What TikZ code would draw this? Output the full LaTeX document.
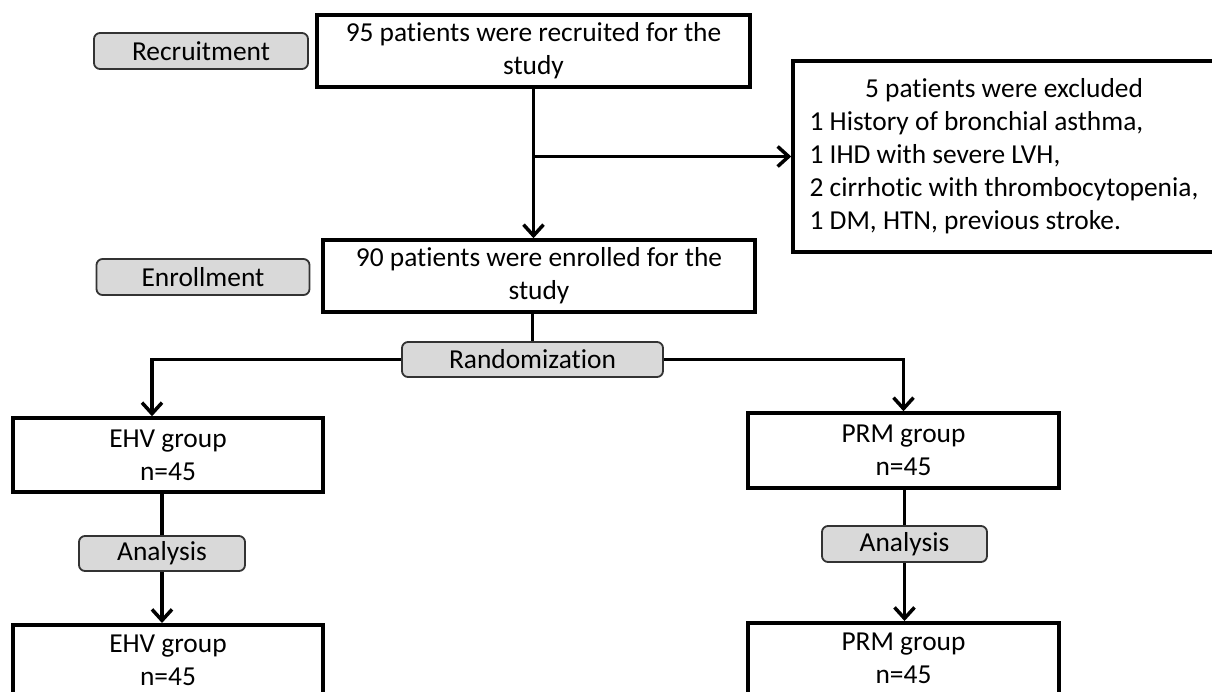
\documentclass[tikz,border=0pt]{standalone}
\usepackage{fontspec}
\setmainfont{Carlito}[Ligatures={NoCommon}]
\usetikzlibrary{positioning,arrows.meta}

\begin{document}
\begin{tikzpicture}[x=1pt,y=-1pt,
  font=\fontsize{27.4}{33}\selectfont,
  mainbox/.style={draw, line width=3.5, align=center, inner sep=0pt},
  stagebox/.style={draw=black!80, fill=black!15, line width=1.8, rounded corners=6, inner sep=0pt},
  link/.style={line width=3.5},
  arr/.style={line width=3.5, -{Straight Barb[length=11pt,width=20pt]}}]
\useasboundingbox (0,0) rectangle (1212,691);

\node[mainbox, minimum width=433, minimum height=72] (recruited) at (533.5,51) {95 patients were recruited for the\\study};
\node[stagebox, minimum width=214, minimum height=36] (recruit) at (201,51) {Recruitment};
\node[mainbox, minimum width=422, minimum height=191] (excluded) at (1004,156.5)
  {\begin{tabular}{@{}l@{}}
   \multicolumn{1}{@{}c@{}}{5 patients were excluded}\\
   1 History of bronchial asthma,\\
   1 IHD with severe LVH,\\
   2 cirrhotic with thrombocytopenia,\\
   1 DM, HTN, previous stroke.
   \end{tabular}};
\node[mainbox, minimum width=432, minimum height=72] (enrolled) at (539,276) {90 patients were enrolled for the\\study};
\node[stagebox, minimum width=213, minimum height=36] (enroll) at (203,277) {Enrollment};
\node[stagebox, minimum width=261, minimum height=35] (random) at (532.5,359.5) {Randomization};

\node[mainbox, minimum width=310, minimum height=74] (ehvA) at (168,455) {EHV group\\n=45};
\node[stagebox, minimum width=166, minimum height=35] (analysisA) at (162,553.5) {Analysis};
\node[mainbox, minimum width=310, minimum height=72, anchor=north] (ehvB) at (168,623) {EHV group\\n=45};

\node[mainbox, minimum width=311, minimum height=75] (prmA) at (903.5,450.5) {PRM group\\n=45};
\node[stagebox, minimum width=165, minimum height=36] (analysisB) at (904.5,544) {Analysis};
\node[mainbox, minimum width=311, minimum height=72, anchor=north] (prmB) at (903.5,621) {PRM group\\n=45};

\draw[arr] (recruited.south) -- (recruited.south |- enrolled.north);
\draw[arr] (recruited.south |- excluded.west) -- (excluded.west);
\draw[link] (random.north |- enrolled.south) -- (random.north);
\draw[arr] (random.west) -| ([xshift=-16pt]ehvA.north);
\draw[arr] (random.east) -| (prmA.north);
\draw[link] (analysisA.north |- ehvA.south) -- (analysisA.north);
\draw[arr] (analysisA.south) -- (analysisA.south |- ehvB.north);
\draw[link] (analysisB.north |- prmA.south) -- (analysisB.north);
\draw[arr] (analysisB.south) -- (analysisB.south |- prmB.north);
\end{tikzpicture}
\end{document}
